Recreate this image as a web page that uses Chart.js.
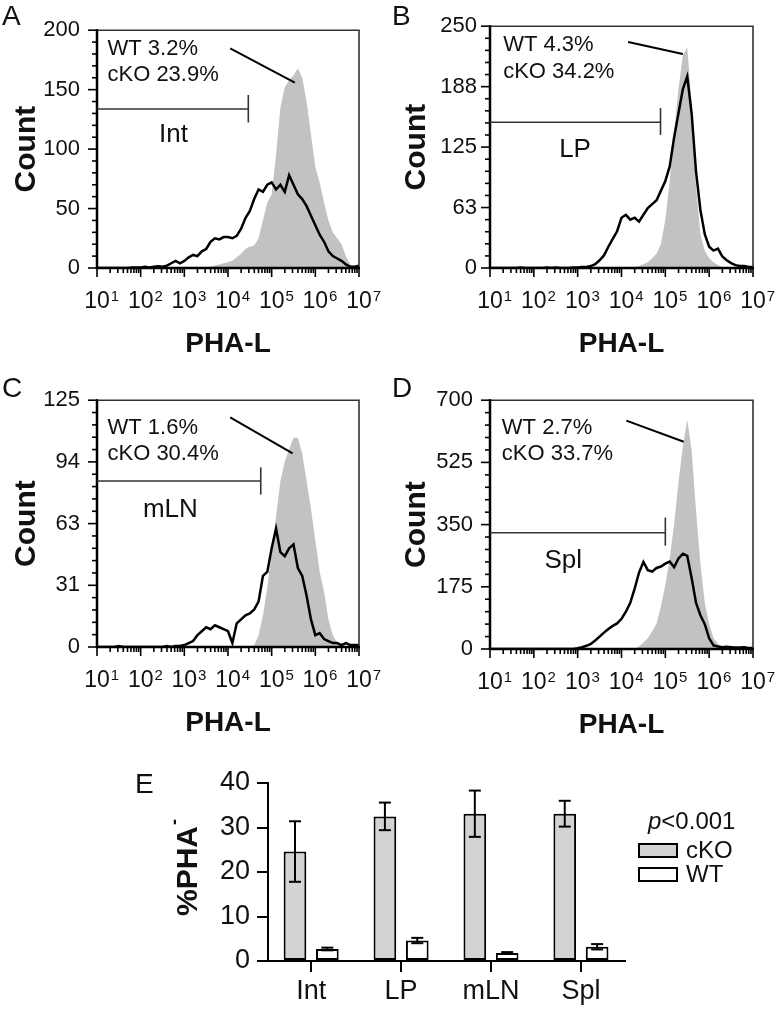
<!DOCTYPE html>
<html><head><meta charset="utf-8">
<script src="https://cdn.jsdelivr.net/npm/chart.js@4.4.1/dist/chart.umd.min.js"></script>
<style>
html,body{margin:0;padding:0;background:#fff;}
body{position:relative;width:776px;height:1009px;overflow:hidden;}
canvas{position:absolute;}
</style></head>
<body>
<canvas id="cA" width="388" height="370" style="left:0;top:0"></canvas>
<canvas id="cB" width="388" height="370" style="left:388px;top:0"></canvas>
<canvas id="cC" width="388" height="380" style="left:0;top:370px"></canvas>
<canvas id="cD" width="388" height="380" style="left:388px;top:370px"></canvas>
<canvas id="cE" width="776" height="259" style="left:0;top:750px"></canvas>
<script>
// ---------- DATA ----------
// histogram bins: log10 of PHA-L intensity
const binExp = [1.0,1.1,1.2,1.3,1.4,1.5,1.6,1.7,1.8,1.9,2.0,2.1,2.2,2.3,2.4,2.5,2.6,2.7,2.8,2.9,3.0,3.1,3.2,3.3,3.4,3.5,3.6,3.7,3.8,3.9,4.0,4.1,4.2,4.3,4.4,4.5,4.6,4.7,4.8,4.9,5.0,5.1,5.2,5.3,5.4,5.5,5.6,5.7,5.8,5.9,6.0,6.1,6.2,6.3,6.4,6.5,6.6,6.7,6.8,6.9,7.0];
const xTickExps = [1,2,3,4,5,6,7];

const intWT  = [0,0,0,0,0,0,0,0,0,0, 0,0,0,0,0,0,0,0,0,0, 0,0,0,0,0,0,1,2,3,4, 5,6,9,12,16,18,19,25,40,55, 62,95,135,152,158,162,168,160,140,112, 85,72,55,40,30,25,20,10,3,1, 0];
const intCKO = [0,0,0,0,0,0,0,0,0.5,0.5, 0.5,1,0.5,1,1.5,1,2,4,6,4, 6,9,11,10,14,16,22,25,24,26, 26,25,27,33,42,48,58,66,64,70, 72,66,70,64,78,70,62,58,52,44, 36,28,22,14,10,8,6,3,1,1, 2];
const lpWT   = [0,0,0,0,0,0,0,0,0,0, 0,0,0,0,0,0,0,0,0,0, 0,0,0,0,0,0,0,0,0,0, 0,0,0,1,2,4,6,10,15,25, 50,90,140,185,220,228,170,85,35,18, 10,6,3,1,0,0,0,0,0,0, 0];
const lpCKO  = [0,0,0,0,0,0,0,0.5,0,0, 0,0,0,0.5,0,0.5,0,0,0,0.5, 0.5,1,1,2,4,8,13,22,30,38, 52,55,50,52,48,55,62,66,70,80, 90,105,135,160,185,198,160,100,60,35, 22,18,20,12,8,5,3,2,2,1, 1];
const mlnWT  = [0,0,0,0,0,0,0,0,0,0, 0,0,0,0,0,0,0,0,0,0, 0,0,0,0,0,0,0,0,0,0, 0,0,0,0,0,0,1,6,16,30, 48,66,84,94,100,106,106,98,84,70, 54,38,28,14,6,2,0,0,0,0, 0];
const mlnCKO = [0,0,0,0,0,0.5,0,0,0,0, 0,0,0,0,0,0,0.5,0,0.5,0.5, 1,2,3,6,8,10,9,11,10,9, 8,2,12,14,16,17,19,23,36,38, 50,60,48,46,50,52,40,36,26,14, 6,7,4,3,2,2,1,2,1,1, 1];
const splWT  = [0,0,0,0,0,0,0,0,0,0, 0,0,0,0,0,0,0,0,0,0, 0,0,0,0,0,0,0,0,0,0, 0,0,0,0,8,18,30,50,72,120, 180,255,350,470,570,645,560,390,240,130, 70,30,15,6,2,0,0,0,0,0, 0];
const splCKO = [0,0,0,0,0,0,0,0,0,0, 0,0,0,0,0,0,0,0,0,0, 2,5,9,14,24,35,46,56,65,72, 85,105,130,170,215,245,222,218,228,232, 240,246,230,255,268,262,200,130,95,70, 30,10,7,5,6,5,4,4,5,3, 3];

const yTicksA = [0,50,100,150,200];      const yLabelsA = ['0','50','100','150','200'];
const yTicksB = [0,62.5,125,187.5,250];  const yLabelsB = ['0','63','125','188','250'];
const yTicksC = [0,31.25,62.5,93.75,125];const yLabelsC = ['0','31','63','94','125'];
const yTicksD = [0,175,350,525,700];     const yLabelsD = ['0','175','350','525','700'];

const regions = ['Int','LP','mLN','Spl'];
const wtPct   = ['3.2','4.3','1.6','2.7'];
const ckoPct  = ['23.9','34.2','30.4','33.7'];

const ckoMean = [24.6,32.5,33.1,33.1];
const ckoErr  = [6.8,3.1,5.2,2.9];
const wtMean  = [2.7,4.6,1.8,3.2];
const wtErr   = [0.3,0.6,0.2,0.6];

// ---------- STYLE ----------
const FF = "'Liberation Sans', Arial, Helvetica, sans-serif";
Chart.defaults.font.family = FF;
Chart.defaults.color = '#111';

function line(ctx,x1,y1,x2,y2){ctx.beginPath();ctx.moveTo(x1,y1);ctx.lineTo(x2,y2);ctx.stroke();}

const histPlugin = {
  id:'histDeco',
  afterDraw(chart, args, cfg){
    const ctx = chart.ctx;
    const {left:L, top:T, right:R, bottom:B} = chart.chartArea;
    const xs = chart.scales.x, ys = chart.scales.y;
    const X = e => xs.getPixelForValue(Math.pow(10,e));
    const Y = v => ys.getPixelForValue(v);
    ctx.save();
    ctx.lineCap = 'butt';
    // frame
    ctx.strokeStyle = '#333'; ctx.lineWidth = 1.6;
    ctx.beginPath(); ctx.moveTo(L,T); ctx.lineTo(R,T); ctx.lineTo(R,B); ctx.stroke();
    ctx.strokeStyle = '#000'; ctx.lineWidth = 2.5;
    ctx.beginPath(); ctx.moveTo(L,T-1); ctx.lineTo(L,B); ctx.lineTo(R+1,B); ctx.stroke();
    // y ticks
    ctx.lineWidth = 1.6;
    const yt = cfg.yTicks;
    for (let i=0;i<yt.length;i++){
      const y = Y(yt[i]);
      line(ctx,L-9,y,L,y);
      if (i<yt.length-1){
        const st = (yt[i+1]-yt[i])/5;
        for (let k=1;k<5;k++){ const yy = Y(yt[i]+st*k); line(ctx,L-5,yy,L,yy); }
      }
    }
    // x ticks
    for (let i=0;i<xTickExps.length;i++){
      const e = xTickExps[i];
      const x = X(e);
      line(ctx,x,B,x,B+9);
      if (i<xTickExps.length-1){
        for (let m=2;m<10;m++){ const xx = xs.getPixelForValue(m*Math.pow(10,e)); line(ctx,xx,B,xx,B+5); }
      }
    }
    // x tick labels 10^n
    ctx.fillStyle = '#111';
    for (const e of xTickExps){
      const x = X(e);
      ctx.font = '23px '+FF; ctx.textAlign='center'; ctx.textBaseline='alphabetic';
      ctx.fillText('10', x, B+40);
      const w = ctx.measureText('10').width;
      ctx.font = '15px '+FF; ctx.textAlign='left';
      ctx.fillText(String(e), x + w/2 + 1, B+33);
    }
    // axis titles
    ctx.font = 'bold 28px '+FF; ctx.textAlign='center';
    ctx.fillText('PHA-L', (L+R)/2, B+84);
    ctx.save();
    ctx.translate(cfg.titleX, (T+B)/2); ctx.rotate(-Math.PI/2);
    ctx.font = 'bold 30px '+FF; ctx.textAlign='center';
    ctx.fillText('Count', 0, 0);
    ctx.restore();
    // panel letter
    ctx.font = '28px '+FF; ctx.textAlign='left';
    ctx.fillText(cfg.letter, cfg.letterX, cfg.letterY);
    // annotations
    ctx.font = '22px '+FF; ctx.textAlign='left';
    ctx.fillText('WT '+cfg.wt+'%', X(cfg.txtExp), Y(cfg.wtY));
    ctx.fillText('cKO '+cfg.cko+'%', X(cfg.txtExp), Y(cfg.ckoY));
    ctx.strokeStyle = '#000'; ctx.lineWidth = 2;
    line(ctx, X(cfg.leader[0]), Y(cfg.leader[1]), X(cfg.leader[2]), Y(cfg.leader[3]));
    ctx.strokeStyle = '#333'; ctx.lineWidth = 1.6;
    line(ctx, L, Y(cfg.gate.y), X(cfg.gate.exp), Y(cfg.gate.y));
    line(ctx, X(cfg.gate.exp), Y(cfg.gate.y1), X(cfg.gate.exp), Y(cfg.gate.y2));
    ctx.font = '26px '+FF; ctx.textAlign='center';
    ctx.fillText(cfg.name, X(cfg.nameExp), Y(cfg.nameY));
    ctx.restore();
  }
};

function histChart(id, cfg){
  const canvas = document.getElementById(id);
  const W = canvas.width, H = canvas.height, a = cfg.area;
  return new Chart(canvas, {
    type:'line',
    data:{datasets:[
      {label:'cKO', data: binExp.map((e,i)=>({x:Math.pow(10,e), y:cfg.ckoData[i]})),
       borderColor:'#000', borderWidth:2.5, pointRadius:0, fill:false, tension:0},
      {label:'WT', data: binExp.map((e,i)=>({x:Math.pow(10,e), y:cfg.wtData[i]})),
       borderColor:'rgba(0,0,0,0)', borderWidth:0, backgroundColor:'#c2c2c2', fill:'origin', pointRadius:0, tension:0}
    ]},
    options:{
      responsive:false, animation:false, devicePixelRatio:1,
      layout:{padding:{left:0, top:a[1], right:W-a[2], bottom:0}},
      plugins:{legend:{display:false}, tooltip:{enabled:false}, histDeco:cfg},
      scales:{
        x:{type:'logarithmic', min:10, max:1e7, ticks:{display:false}, grid:{display:false, drawTicks:false}, border:{display:false},
           afterFit:s=>{s.height = H - a[3];}},
        y:{type:'linear', min:0, max:cfg.yTicks[cfg.yTicks.length-1],
           afterBuildTicks:s=>{s.ticks = cfg.yTicks.map(v=>({value:v}));},
           ticks:{callback:(v,i)=>cfg.yLabels[i], font:{size:22}, color:'#111', padding:cfg.pad, autoSkip:false},
           grid:{display:false, drawTicks:false}, border:{display:false},
           afterFit:s=>{s.width = a[0];}}
      }
    },
    plugins:[histPlugin]
  });
}

histChart('cA', {area:[97,14,359,268], pad:17, titleX:35, letter:'A', letterX:2, letterY:25,
  wtData:intWT, ckoData:intCKO, yTicks:yTicksA, yLabels:yLabelsA, wt:wtPct[0], cko:ckoPct[0], name:regions[0],
  txtExp:1.24, wtY:179.5, ckoY:157, leader:[4.05,184.8,5.53,156], gate:{y:133.7, exp:4.465, y1:145.5, y2:122.4}, nameExp:2.75, nameY:106});
histChart('cB', {area:[102,14,365,268], pad:13, titleX:37, letter:'B', letterX:4, letterY:25,
  wtData:lpWT, ckoData:lpCKO, yTicks:yTicksB, yLabels:yLabelsB, wt:wtPct[1], cko:ckoPct[1], name:regions[1],
  txtExp:1.30, wtY:224.4, ckoY:196.6, leader:[4.15,233.6,5.40,221.2], gate:{y:150.7, exp:4.89, y1:165.5, y2:137.6}, nameExp:2.94, nameY:114.7});
histChart('cC', {area:[97,24,359,277], pad:17, titleX:35, letter:'C', letterX:2, letterY:27,
  wtData:mlnWT, ckoData:mlnCKO, yTicks:yTicksC, yLabels:yLabelsC, wt:wtPct[2], cko:ckoPct[2], name:regions[2],
  txtExp:1.24, wtY:108, ckoY:94.8, leader:[4.05,116.3,5.48,98.1], gate:{y:84.1, exp:4.75, y1:91, y2:77.2}, nameExp:2.68, nameY:66});
histChart('cD', {area:[102,24,365,279], pad:17, titleX:37, letter:'D', letterX:4, letterY:27,
  wtData:splWT, ckoData:splCKO, yTicks:yTicksD, yLabels:yLabelsD, wt:wtPct[3], cko:ckoPct[3], name:regions[3],
  txtExp:1.27, wtY:606, ckoY:533, leader:[4.11,642.6,5.42,583], gate:{y:327, exp:5.0, y1:370, y2:290.7}, nameExp:2.67, nameY:226.7});

// ---------- PANEL E ----------
const errPlugin = {
  id:'errBars',
  afterDatasetsDraw(chart){
    const ctx = chart.ctx, ys = chart.scales.y;
    ctx.save(); ctx.strokeStyle='#000'; ctx.lineWidth=2;
    chart.data.datasets.forEach((ds,di)=>{
      const meta = chart.getDatasetMeta(di);
      meta.data.forEach((bar,j)=>{
        const v = ds.data[j].y, e = ds.errors[j];
        const yt = ys.getPixelForValue(v+e), yb = ys.getPixelForValue(v-e);
        line(ctx, bar.x, yt, bar.x, yb);
        line(ctx, bar.x-6, yt, bar.x+6, yt);
        line(ctx, bar.x-6, yb, bar.x+6, yb);
      });
    });
    ctx.restore();
  },
  afterDraw(chart){
    const ctx = chart.ctx;
    const {top:T, bottom:B} = chart.chartArea;
    ctx.save(); ctx.fillStyle='#111';
    // panel letter
    ctx.font = '28px '+FF; ctx.textAlign='left'; ctx.textBaseline='alphabetic';
    ctx.fillText('E', 135, 43);
    // y title %PHA-
    ctx.save();
    ctx.font = 'bold 30px '+FF;
    const w1 = ctx.measureText('%PHA').width;
    ctx.font = 'bold 18px '+FF;
    const w2 = ctx.measureText('-').width;
    ctx.translate(197, (T+B)/2 + (w1+w2)/2 - 4); ctx.rotate(-Math.PI/2);
    ctx.font = 'bold 30px '+FF; ctx.fillText('%PHA', 0, 0);
    ctx.font = 'bold 18px '+FF; ctx.fillText('-', w1+1, -17);
    ctx.restore();
    // legend
    ctx.font = 'italic 24px '+FF;
    ctx.fillText('p', 648, 79);
    const wp = ctx.measureText('p').width;
    ctx.font = '24px '+FF;
    ctx.fillText('<0.001', 648+wp, 79);
    const boxY = [94,118];
    chart.data.datasets.forEach((ds,i)=>{
      ctx.fillStyle = ds.backgroundColor;
      ctx.fillRect(639, boxY[i], 38, 13);
      ctx.strokeStyle = '#000'; ctx.lineWidth = 2;
      ctx.strokeRect(639, boxY[i], 38, 13);
      ctx.fillStyle = '#111'; ctx.font = '24px '+FF; ctx.textBaseline='middle';
      ctx.fillText(ds.label, 686, boxY[i]+7);
      ctx.textBaseline='alphabetic';
    });
    ctx.restore();
  }
};

new Chart(document.getElementById('cE'), {
  type:'bar',
  data:{datasets:[
    {label:'cKO', data: regions.map((r,i)=>({x:i, y:ckoMean[i]})), errors: ckoErr,
     backgroundColor:'#d3d3d3', borderColor:'#000', borderWidth:2, borderSkipped:false, categoryPercentage:0.72, barPercentage:0.7},
    {label:'WT', data: regions.map((r,i)=>({x:i, y:wtMean[i]})), errors: wtErr,
     backgroundColor:'#ffffff', borderColor:'#000', borderWidth:2, borderSkipped:false, categoryPercentage:0.72, barPercentage:0.7}
  ]},
  options:{
    responsive:false, animation:false, devicePixelRatio:1,
    layout:{padding:{left:0, top:33, right:151, bottom:0}},
    plugins:{legend:{display:false}, tooltip:{enabled:false}},
    scales:{
      x:{type:'linear', min:-0.48, max:3.49, offset:false,
         afterBuildTicks:s=>{s.ticks = regions.map((r,i)=>({value:i}));},
         ticks:{callback:(v,i)=>regions[i], font:{size:27}, color:'#111', padding:3, maxRotation:0, autoSkip:false},
         grid:{display:true, drawOnChartArea:false, drawTicks:true, tickLength:11, color:'#000', lineWidth:2, offset:false},
         border:{display:true, color:'#000', width:2},
         afterFit:s=>{s.height = 48;}},
      y:{min:0, max:40, ticks:{stepSize:10, font:{size:27}, color:'#111', padding:7},
         grid:{display:true, drawOnChartArea:false, drawTicks:true, tickLength:11, color:'#000', lineWidth:2},
         border:{display:true, color:'#000', width:2},
         afterFit:s=>{s.width = 268;}}
    }
  },
  plugins:[errPlugin]
});
</script>
</body></html>
